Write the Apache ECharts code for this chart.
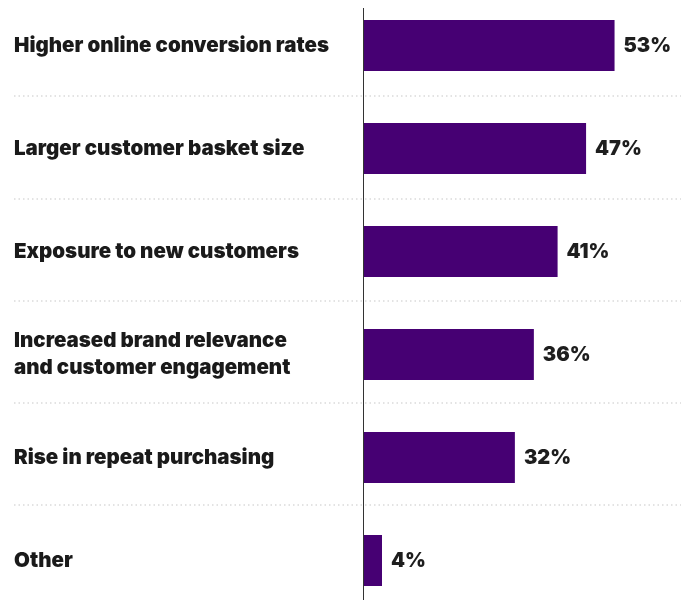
<!DOCTYPE html>
<html>
<head>
<meta charset="utf-8">
<style>
  html, body { margin: 0; padding: 0; background: #ffffff; overflow: hidden; }
  /* canvas runs a little past the page edges so the row bands keep their full height */
  #chart { width: 692px; height: 618px; margin-top: -6px; }
</style>
<script src="https://cdn.jsdelivr.net/npm/echarts@6/dist/echarts.min.js"></script>
</head>
<body>
<div id="chart"></div>
<script>
// Benefits reported, share of respondents (%)
const categories = [
  'Higher online conversion rates',
  'Larger customer basket size',
  'Exposure to new customers',
  'Increased brand relevance\nand customer engagement',
  'Rise in repeat purchasing',
  'Other'
];
const values = [53, 47, 41, 36, 32, 4];

const FONT = 'Inter, "Noto Sans", sans-serif';
const chart = echarts.init(document.getElementById('chart'), null, { renderer: 'canvas' });

chart.setOption({
  animation: false,
  backgroundColor: '#ffffff',
  grid: [
    // bar area
    { left: 363, right: 11, top: 0, bottom: 0, containLabel: false },
    // full-width band used only for the dotted row separators
    { left: 14, right: 11, top: -5, bottom: 5, containLabel: false }
  ],
  xAxis: [
    { type: 'value', gridIndex: 0, min: 0, max: 67, show: false },
    { type: 'value', gridIndex: 1, min: 0, max: 1, show: false }
  ],
  yAxis: [
    {
      type: 'category',
      gridIndex: 0,
      data: categories,
      inverse: true,
      axisLine: { show: false },
      axisTick: { show: false },
      splitLine: { show: false },
      axisLabel: {
        align: 'left',
        margin: 349,
        color: '#1a1a1a',
        fontFamily: FONT,
        fontWeight: 900,
        fontSize: 20.5,
        lineHeight: 27
      }
    },
    {
      type: 'category',
      gridIndex: 1,
      data: categories,
      inverse: true,
      axisLine: { show: false },
      axisTick: { show: false },
      axisLabel: { show: false },
      splitLine: {
        show: true,
        lineStyle: { color: '#dadada', type: [1.5, 3], width: 1.5 }
      }
    }
  ],
  series: [
    {
      type: 'bar',
      xAxisIndex: 0,
      yAxisIndex: 0,
      data: values,
      barWidth: 51,
      itemStyle: { color: '#460073' },
      label: {
        show: true,
        position: 'right',
        distance: 9,
        formatter: '{c}%',
        color: '#1e1e1e',
        fontFamily: FONT,
        fontWeight: 900,
        fontSize: 20
      }
    }
  ]
});

// vertical baseline at zero, from just below the page top to the bottom edge
const x0 = Math.round(chart.convertToPixel({ xAxisIndex: 0 }, 0)) + 0.5;
chart.setOption({
  graphic: [{
    type: 'line',
    shape: { x1: x0, y1: 14, x2: x0, y2: 618 },
    style: { stroke: '#333333', lineWidth: 1 },
    z: 10
  }]
});
</script>
</body>
</html>
